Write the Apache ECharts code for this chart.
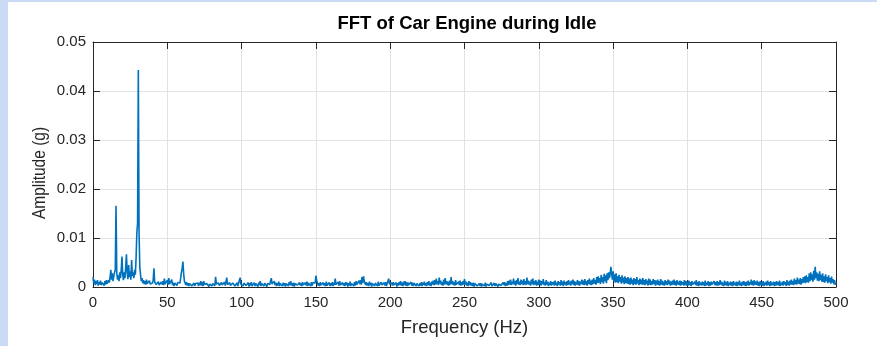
<!DOCTYPE html>
<html>
<head>
<meta charset="utf-8">
<script src="https://cdn.jsdelivr.net/npm/echarts@6/dist/echarts.min.js"></script>
<style>
  html, body { margin: 0; padding: 0; background: #ffffff; }
  #chart { width: 877px; height: 346px; }
</style>
</head>
<body>
<div id="chart"></div>
<script>
// Spectrum of an idling car engine, 0.5 Hz bins from 0 to 500 Hz.
// Amplitudes are stored in units of 0.1 mg (1e-4 g); each row covers 10 Hz.
const binHz = 0.5;
const amplitudeTenthMilliG = [
  20,8,15,4,12,6,14,3,10,5,13,4,9,6,11,3,12,5,14,7,          // 0 Hz
  6,14,9,20,35,15,28,12,22,30,35,166,28,15,24,12,30,18,35,62, // 10 Hz
  25,14,30,18,40,67,30,16,45,20,32,15,55,22,30,18,35,25,60,110, // 20 Hz
  130,443,110,40,25,12,18,8,14,6,12,5,15,7,11,4,13,6,10,5,   // 30 Hz
  8,14,38,10,12,5,9,3,11,4,8,2,10,5,12,4,17,6,9,3,           // 40 Hz
  14,5,18,6,10,3,15,4,9,2,8,4,11,3,9,5,12,8,18,30,           // 50 Hz
  38,52,28,12,9,4,10,3,8,2,7,3,9,2,6,3,8,2,7,4,              // 60 Hz
  3,8,2,9,4,12,3,10,2,12,5,9,2,7,3,8,1,6,3,9,                // 70 Hz
  2,7,4,10,3,21,6,9,2,8,3,7,1,9,4,8,2,10,3,7,                // 80 Hz
  19,5,8,2,9,3,7,1,8,4,10,2,6,3,9,2,8,4,19,6,                // 90 Hz
  3,9,2,8,4,11,3,7,2,9,1,8,3,10,2,6,4,9,2,7,                 // 100 Hz
  3,8,1,9,4,12,2,7,3,10,2,8,4,9,1,7,3,11,5,13,               // 110 Hz
  18,6,10,3,12,4,9,2,8,3,11,2,7,4,10,2,9,3,8,1,              // 120 Hz
  7,3,9,2,10,4,12,3,8,2,9,1,7,3,10,4,8,2,9,3,                // 130 Hz
  8,2,10,4,7,1,9,3,11,2,8,4,7,2,10,3,9,5,12,8,               // 140 Hz
  23,14,9,3,8,2,10,4,7,1,9,3,8,2,11,3,7,4,9,2,               // 150 Hz
  8,3,10,2,9,4,17,5,8,2,10,3,12,4,7,2,9,3,8,2,               // 160 Hz
  10,4,9,1,8,3,11,2,7,4,9,2,10,3,12,5,9,2,13,6,              // 170 Hz
  14,5,20,8,22,12,16,4,10,3,8,2,11,4,9,1,7,3,10,2,           // 180 Hz
  8,4,9,2,11,3,7,1,10,4,8,2,9,3,10,2,8,5,17,6,               // 190 Hz
  9,2,8,3,10,4,7,2,9,1,8,3,10,4,12,3,9,2,11,4,               // 200 Hz
  12,3,10,2,9,4,8,1,10,3,9,2,8,4,11,2,7,3,9,2,               // 210 Hz
  8,3,10,2,9,4,11,3,8,2,10,4,12,3,9,2,11,5,13,4,             // 220 Hz
  14,5,17,6,12,4,19,7,13,4,10,3,15,5,18,6,12,4,11,3,         // 230 Hz
  13,5,20,6,12,4,10,3,14,5,9,2,11,4,13,3,10,4,12,5,          // 240 Hz
  16,5,11,3,9,2,12,4,10,3,8,2,9,1,7,3,8,2,6,3,               // 250 Hz
  7,2,8,1,6,3,7,2,9,1,6,2,8,3,7,1,9,2,6,3,                   // 260 Hz
  8,2,7,3,9,1,6,2,8,3,7,1,9,4,10,2,8,3,12,4,                 // 270 Hz
  13,5,15,4,11,6,17,5,12,3,14,6,18,5,11,4,15,6,13,4,         // 280 Hz
  16,5,12,4,19,6,13,5,11,3,15,6,17,4,12,5,14,3,11,4,         // 290 Hz
  15,5,13,3,12,6,16,4,10,3,14,5,11,2,9,4,12,3,10,5,          // 300 Hz
  11,3,13,4,9,2,12,5,10,3,14,4,11,2,13,5,10,3,12,4,          // 310 Hz
  14,5,11,3,13,6,15,4,12,3,10,5,14,4,12,3,11,6,15,5,         // 320 Hz
  13,4,16,5,12,3,14,6,17,5,13,4,15,6,18,7,14,5,20,8,         // 330 Hz
  22,9,18,6,25,10,20,7,27,12,24,8,28,14,30,18,26,41,29,15,   // 340 Hz
  32,12,26,9,28,10,22,8,25,11,20,7,24,9,19,6,22,8,18,7,      // 350 Hz
  20,6,17,5,19,7,15,4,18,6,16,5,20,7,14,4,17,6,15,5,         // 360 Hz
  18,5,14,4,16,6,13,3,17,5,15,4,12,5,16,6,14,3,13,5,         // 370 Hz
  15,4,12,3,16,5,13,4,11,3,14,5,12,4,15,6,13,3,11,4,         // 380 Hz
  13,5,15,4,12,3,14,5,11,4,13,3,12,5,10,3,14,4,12,3,         // 390 Hz
  11,3,13,4,10,2,12,5,9,3,11,4,14,3,10,2,12,4,9,3,           // 400 Hz
  11,4,10,2,13,3,9,4,12,2,10,3,11,5,9,2,12,4,10,3,           // 410 Hz
  12,3,10,4,14,5,11,3,9,2,13,4,10,3,12,2,9,4,11,3,           // 420 Hz
  10,2,12,4,9,3,11,2,10,4,13,3,9,2,11,4,12,3,10,2,           // 430 Hz
  11,4,13,3,10,5,15,4,12,3,14,5,11,4,13,3,10,2,12,4,         // 440 Hz
  10,3,12,2,9,4,11,3,13,4,10,2,12,3,9,4,11,2,10,3,           // 450 Hz
  12,4,10,3,13,2,9,4,11,3,12,5,10,2,14,4,11,3,13,5,          // 460 Hz
  15,5,12,4,17,6,14,5,19,7,15,6,18,5,16,8,20,9,22,8,         // 470 Hz
  24,10,20,9,28,12,30,14,26,11,33,15,41,18,30,13,27,12,32,14, // 480 Hz
  25,11,28,10,22,9,26,12,20,8,24,10,18,7,21,9,16,6,14,5,     // 490 Hz
  8                                                          // 500 Hz
];

const xTicks = [0, 50, 100, 150, 200, 250, 300, 350, 400, 450, 500];
const yTicks = [0, 0.01, 0.02, 0.03, 0.04, 0.05];

const titleText = 'FFT of Car Engine during Idle';
const xLabelText = 'Frequency (Hz)';
const yLabelText = 'Amplitude (g)';

// frequency / amplitude pairs in g
const spectrum = amplitudeTenthMilliG.map((v, i) => [i * binHz, v / 10000]);

const axisColor = '#262626';
const gridColor = '#e2e2e2';
const fontFamily = 'Liberation Sans, Arial, Helvetica, sans-serif';

const chart = echarts.init(document.getElementById('chart'), null, { renderer: 'canvas' });

const baseX = {
  type: 'value',
  min: xTicks[0],
  max: xTicks[xTicks.length - 1],
  interval: xTicks[1] - xTicks[0],
  axisLine: { show: true, onZero: false, lineStyle: { color: axisColor, width: 1 } },
  axisTick: { show: true, inside: true, length: 7, lineStyle: { color: axisColor } }
};
const baseY = {
  type: 'value',
  min: yTicks[0],
  max: yTicks[yTicks.length - 1],
  interval: yTicks[1] - yTicks[0],
  axisLine: { show: true, onZero: false, lineStyle: { color: axisColor, width: 1 } },
  axisTick: { show: true, inside: true, length: 7, lineStyle: { color: axisColor } }
};

chart.setOption({
  animation: false,
  backgroundColor: '#ffffff',
  title: {
    text: titleText,
    left: 462, top: 9, textAlign: 'center',
    textStyle: { fontFamily, fontSize: 18.5, fontWeight: 'bold', color: '#000000' }
  },
  grid: { left: 93, right: 41, top: 42, bottom: 59, containLabel: false },
  graphic: [
    { type: 'rect', left: 0, top: 0, shape: { width: 877, height: 2 }, style: { fill: '#cbdaf5' }, z: 100 },
    { type: 'rect', left: 0, top: 0, shape: { width: 8, height: 346 }, style: { fill: '#cbdaf5' }, z: 100 },
    {
      type: 'text', x: 40, y: 173, rotation: Math.PI / 2, scaleY: 1.15, z: 100,
      style: {
        text: yLabelText, fontFamily, fontSize: 15.5, fill: axisColor,
        textAlign: 'center', textVerticalAlign: 'middle'
      }
    }
  ],
  xAxis: [
    Object.assign({}, baseX, {
      position: 'bottom',
      name: xLabelText, nameLocation: 'middle', nameGap: 31,
      nameTextStyle: { fontFamily, fontSize: 18.5, color: axisColor },
      axisLabel: { fontFamily, fontSize: 15, color: axisColor, margin: 8 },
      splitLine: { show: true, lineStyle: { color: gridColor, width: 1 } }
    }),
    Object.assign({}, baseX, {
      position: 'top',
      axisLabel: { show: false },
      splitLine: { show: false }
    })
  ],
  yAxis: [
    Object.assign({}, baseY, {
      position: 'left',
      axisLabel: {
        fontFamily, fontSize: 15, color: axisColor, margin: 7,
        formatter: v => (v === 0 ? '0' : v.toFixed(2))
      },
      splitLine: { show: true, lineStyle: { color: gridColor, width: 1 } }
    }),
    Object.assign({}, baseY, {
      position: 'right',
      axisLabel: { show: false },
      splitLine: { show: false }
    })
  ],
  series: [{
    type: 'line',
    data: spectrum,
    xAxisIndex: 0,
    yAxisIndex: 0,
    showSymbol: false,
    symbol: 'none',
    sampling: null,
    lineStyle: { color: '#0072bd', width: 1.6 },
    z: 3
  }]
});
</script>
</body>
</html>
